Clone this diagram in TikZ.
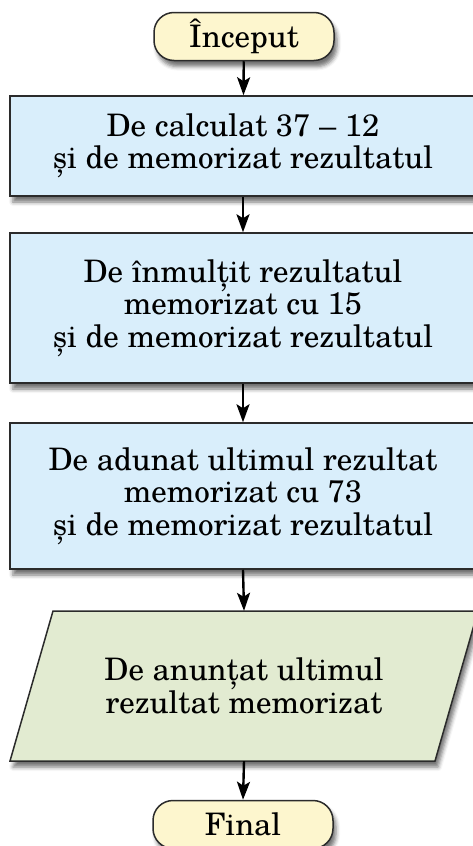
\documentclass[tikz,border=0pt]{standalone}
\usepackage{fontspec}
\setmainfont{TeX Gyre Schola}
\usetikzlibrary{shadows.blur,arrows.meta}
\definecolor{procblue}{HTML}{D9EEFB}
\definecolor{iogreen}{HTML}{E2EBD1}
\definecolor{termyellow}{HTML}{FDF6CE}
\definecolor{edgegray}{HTML}{2B2B2B}
\begin{document}
\begin{tikzpicture}[x=1pt,y=-1pt,
  every node/.style={font=\fontsize{31}{32.5}\selectfont, text=black},
  base/.style={draw=edgegray, line width=1.5pt,
    blur shadow={shadow xshift=3pt, shadow yshift=-6pt, shadow blur radius=4pt, shadow opacity=55}},
  term/.style={base, fill=termyellow, rounded corners=20pt, minimum width=180pt, minimum height=48pt, inner sep=0pt},
  proc/.style={base, fill=procblue, minimum width=466pt, align=center, inner sep=0pt},
  iotext/.style={minimum width=425pt, minimum height=150pt, align=center, inner sep=0pt},
  flow/.style={-{Stealth[length=18pt,width=13pt,inset=4pt]}, line width=2.4pt, black}]
\useasboundingbox (0,0) rectangle (473,846);
\node[term] (start) at (244,36.5) {Început};
\node[proc, minimum height=100pt] (b1) at (243,146) {De calculat 37 – 12\\și de memorizat rezultatul};
\node[proc, minimum height=150pt] (b2) at (243,308) {De înmulțit rezultatul\\memorizat cu 15\\și de memorizat rezultatul};
\node[proc, minimum height=146pt] (b3) at (243,496) {De adunat ultimul rezultat\\memorizat cu 73\\și de memorizat rezultatul};
\path[base, fill=iogreen] (10,761) -- (435,761) -- (478,611) -- (53,611) -- cycle;
\node[iotext] (out) at (244,686) {De anunțat ultimul\\rezultat memorizat};
\node[term] (final) at (243,824.5) {Final};
\draw[flow] (start) -- (b1);
\draw[flow] (b1) -- (b2);
\draw[flow] (b2) -- (b3);
\draw[flow] (b3.south) -- (out.north);
\draw[flow] (out.south) -- (final.north);
\end{tikzpicture}
\end{document}
